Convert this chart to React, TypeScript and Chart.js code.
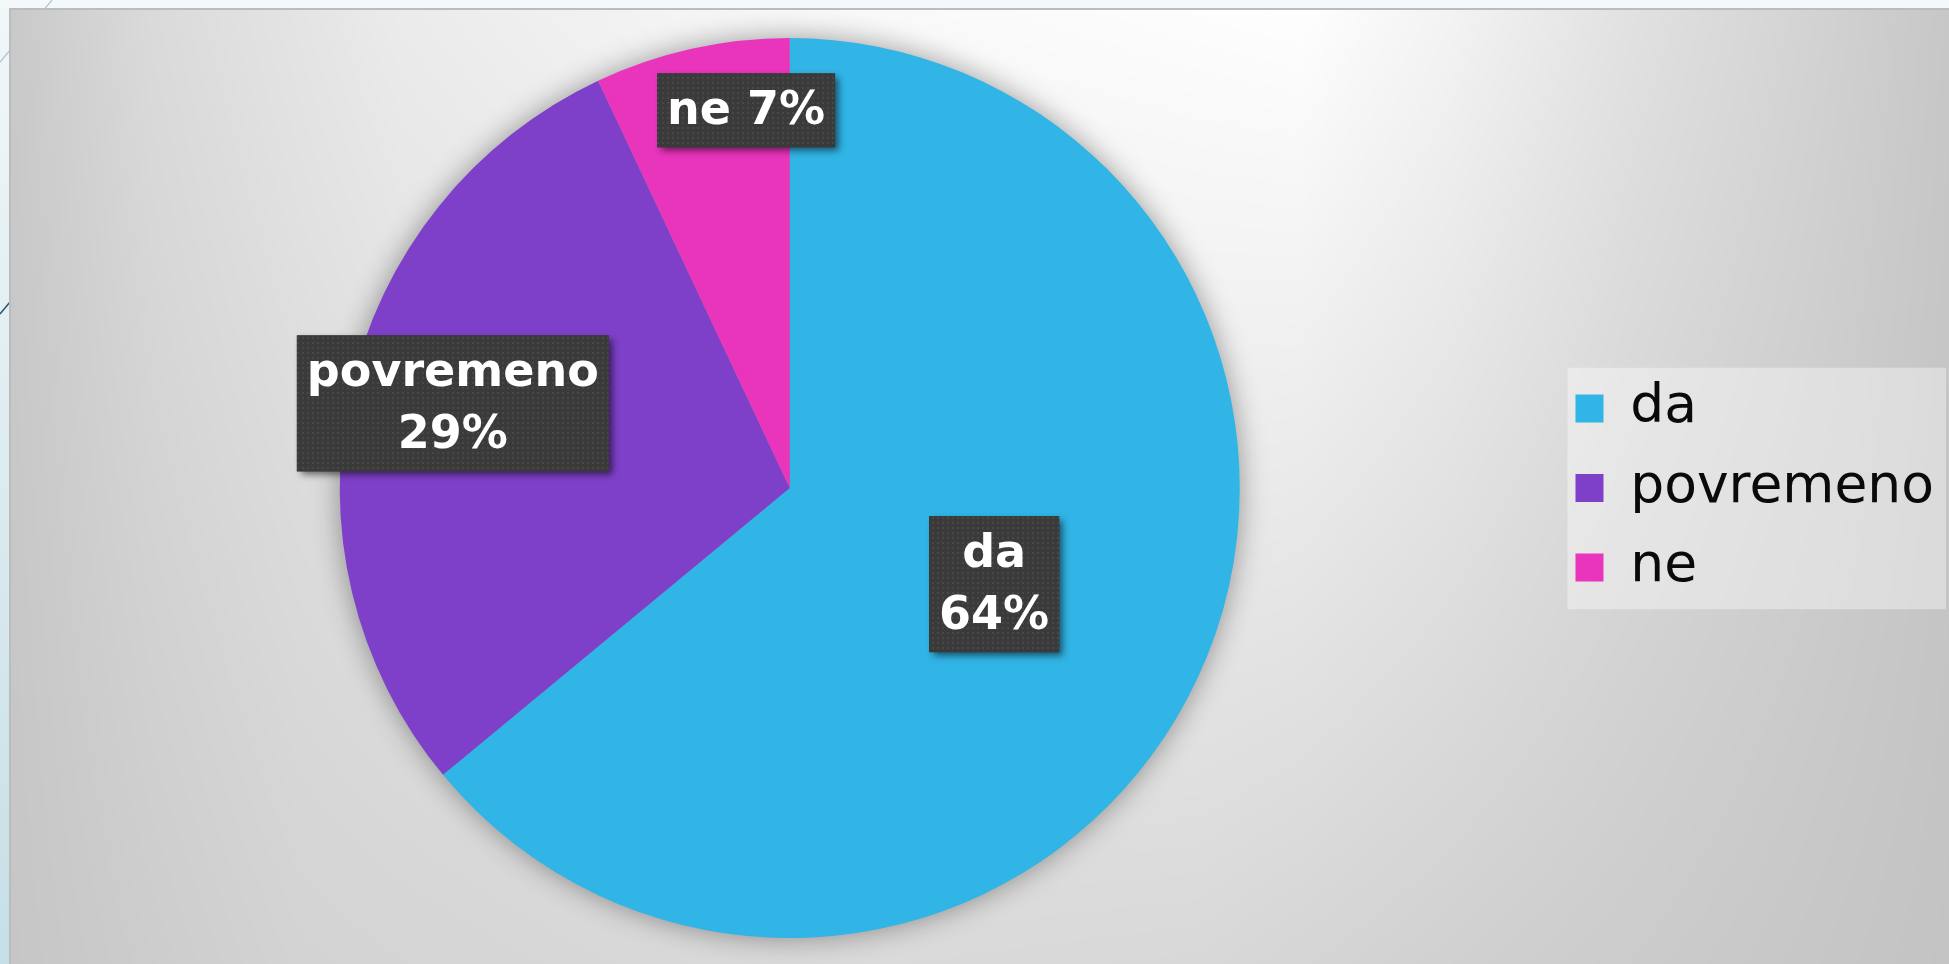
import React, { useEffect, useRef } from 'react';
import { Chart, registerables } from 'chart.js';

Chart.register(...registerables);

const categories: string[] = ['da', 'povremeno', 'ne'];
const percentages: number[] = [64, 29, 7];
const sliceColors: string[] = ['#31B4E6', '#7E40C9', '#E934BC'];
const labelSingleLine: boolean[] = [false, false, true];

const labelPlacement = [
  { r: 0.502, shift: 0 },
  { r: 0.772, shift: 1.5 },
  { r: 0.845, shift: 6 },
];

function interp(pts: number[][], x: number): number {
  if (x <= pts[0][0]) return pts[0][1];
  for (let i = 1; i < pts.length; i++) {
    if (x <= pts[i][0]) {
      const [x0, y0] = pts[i - 1];
      const [x1, y1] = pts[i];
      return y0 + ((y1 - y0) * (x - x0)) / (x1 - x0);
    }
  }
  return pts[pts.length - 1][1];
}

function buildBackground(w: number, h: number): HTMLCanvasElement {
  const c = document.createElement('canvas');
  c.width = w;
  c.height = h;
  const ctx = c.getContext('2d') as CanvasRenderingContext2D;
  const g = ctx.createLinearGradient(0, 0, 0, h);
  g.addColorStop(0, '#f1f7f9');
  g.addColorStop(1, '#c6dfe7');
  ctx.fillStyle = g;
  ctx.fillRect(0, 0, w, h);
  ctx.fillStyle = '#f3f8fa';
  ctx.fillRect(0, 0, w, 9);
  ctx.strokeStyle = '#a9c6d6';
  ctx.lineWidth = 1.2;
  ctx.beginPath();
  ctx.moveTo(52, 0);
  ctx.lineTo(0, 62);
  ctx.stroke();
  ctx.strokeStyle = '#2b5676';
  ctx.lineWidth = 1.5;
  ctx.beginPath();
  ctx.moveTo(0, 314);
  ctx.lineTo(10, 302);
  ctx.stroke();

  const px0 = 10;
  const py0 = 9;
  const pw = w - px0;
  const ph = h - py0;
  const img = ctx.createImageData(pw, ph);
  const d = img.data;
  const T = [[10, 201], [150, 218], [400, 235], [800, 248], [1300, 254], [1450, 243], [1631, 225], [1797, 212], [1949, 199]];
  const B = [[10, 198], [300, 211], [800, 218], [1200, 216], [1500, 207], [1949, 195]];
  for (let x = 0; x < pw; x++) {
    const gx = x + px0;
    const t = interp(T, gx);
    const b = interp(B, gx);
    for (let y = 0; y < ph; y++) {
      const v = t + ((b - t) * y) / ph;
      const idx = (y * pw + x) * 4;
      d[idx] = v;
      d[idx + 1] = v;
      d[idx + 2] = v;
      d[idx + 3] = 255;
    }
  }
  ctx.putImageData(img, px0, py0);
  ctx.fillStyle = '#bcbcbc';
  ctx.fillRect(9, 8, w - 9, 2);
  ctx.fillRect(9, 8, 2, h - 8);
  return c;
}

function buildPattern(ctx: CanvasRenderingContext2D): CanvasPattern | string {
  const p = document.createElement('canvas');
  p.width = 5;
  p.height = 5;
  const pc = p.getContext('2d') as CanvasRenderingContext2D;
  pc.fillStyle = '#3a3a3a';
  pc.fillRect(0, 0, 5, 5);
  pc.fillStyle = '#484848';
  pc.fillRect(2, 2, 2, 2);
  return ctx.createPattern(p, 'repeat') || '#3a3a3a';
}

export default function App() {
  const canvasRef = useRef<HTMLCanvasElement | null>(null);

  useEffect(() => {
    const canvas = canvasRef.current;
    if (!canvas) return;
    let bg: HTMLCanvasElement | null = null;

    const backgroundPlugin = {
      id: 'pageBackground',
      beforeDraw(chart: any) {
        const ctx = chart.ctx;
        if (!bg || bg.width !== chart.width || bg.height !== chart.height) {
          bg = buildBackground(chart.width, chart.height);
        }
        ctx.save();
        ctx.drawImage(bg, 0, 0);
        const lg = chart.legend;
        const hb = lg && lg.legendHitBoxes;
        if (hb && hb.length) {
          const left = Math.min(...hb.map((b: any) => b.left)) - 8;
          const right = Math.max(...hb.map((b: any) => b.left + b.width)) + 12;
          const top = Math.min(...hb.map((b: any) => b.top)) - 14;
          const bottom = Math.max(...hb.map((b: any) => b.top + b.height)) + 15;
          ctx.fillStyle = 'rgba(255,255,255,0.38)';
          ctx.fillRect(left, top, right - left, bottom - top);
        }
        ctx.restore();
      },
    };

    const pieShadowPlugin = {
      id: 'pieShadow',
      beforeDatasetsDraw(chart: any) {
        const meta = chart.getDatasetMeta(0);
        if (!meta.data.length) return;
        const arc = meta.data[0];
        const ctx = chart.ctx;
        const off = 10000;
        ctx.save();
        ctx.shadowColor = 'rgba(0,0,0,0.38)';
        ctx.shadowBlur = 28;
        ctx.shadowOffsetX = off;
        ctx.shadowOffsetY = 0;
        ctx.fillStyle = '#000';
        ctx.beginPath();
        ctx.arc(arc.x - off, arc.y, arc.outerRadius, 0, Math.PI * 2);
        ctx.fill();
        ctx.restore();
      },
    };

    const labelPlugin = {
      id: 'sliceLabels',
      afterDatasetsDraw(chart: any) {
        const ctx = chart.ctx as CanvasRenderingContext2D;
        const meta = chart.getDatasetMeta(0);
        const labels = chart.data.labels as string[];
        const values = chart.data.datasets[0].data as number[];
        const pattern = buildPattern(ctx);
        const padX = 10;
        const padY = 6;
        const lineH = 62;
        meta.data.forEach((arc: any, i: number) => {
          const pl = labelPlacement[i];
          const mid = (arc.startAngle + arc.endAngle) / 2 + (pl.shift * Math.PI) / 180;
          const cx = arc.x + Math.cos(mid) * arc.outerRadius * pl.r;
          const cy = arc.y + Math.sin(mid) * arc.outerRadius * pl.r;
          const lines = labelSingleLine[i]
            ? [`${labels[i]} ${values[i]}%`]
            : [labels[i], `${values[i]}%`];
          ctx.save();
          ctx.font = 'bold 46px "DejaVu Sans"';
          const tw = Math.max(...lines.map((l) => ctx.measureText(l).width));
          const bw = tw + padX * 2;
          const bh = lines.length * lineH + padY * 2;
          const bx = cx - bw / 2;
          const by = cy - bh / 2;
          ctx.shadowColor = 'rgba(0,0,0,0.55)';
          ctx.shadowBlur = 7;
          ctx.shadowOffsetX = 4;
          ctx.shadowOffsetY = 4;
          ctx.fillStyle = '#3a3a3a';
          ctx.fillRect(bx, by, bw, bh);
          ctx.shadowColor = 'transparent';
          ctx.shadowBlur = 0;
          ctx.shadowOffsetX = 0;
          ctx.shadowOffsetY = 0;
          ctx.fillStyle = pattern as any;
          ctx.fillRect(bx, by, bw, bh);
          ctx.fillStyle = '#ffffff';
          ctx.textAlign = 'center';
          ctx.textBaseline = 'middle';
          lines.forEach((l, k) => {
            ctx.fillText(l, cx, by + padY + lineH * (k + 0.5) + 2);
          });
          ctx.restore();
        });
      },
    };

    const chart = new Chart(canvas, {
      type: 'pie',
      data: {
        labels: categories,
        datasets: [
          {
            data: percentages,
            backgroundColor: sliceColors,
            borderWidth: 0,
            hoverOffset: 0,
          },
        ],
      },
      options: {
        animation: false,
        responsive: true,
        maintainAspectRatio: false,
        events: [],
        layout: { padding: { left: 30, right: 5, top: 38, bottom: 26 } },
        plugins: {
          tooltip: { enabled: false },
          legend: {
            position: 'right',
            labels: {
              font: { family: '"DejaVu Sans"', size: 53.5 },
              color: '#0a0a0a',
              boxWidth: 28,
              boxHeight: 28,
              padding: 26,
            },
          },
        },
      },
      plugins: [backgroundPlugin, pieShadowPlugin, labelPlugin],
    } as any);

    return () => chart.destroy();
  }, []);

  return (
    <div style={{ position: 'fixed', left: 0, top: 0, width: '100vw', height: '100vh' }}>
      <canvas ref={canvasRef} />
    </div>
  );
}
